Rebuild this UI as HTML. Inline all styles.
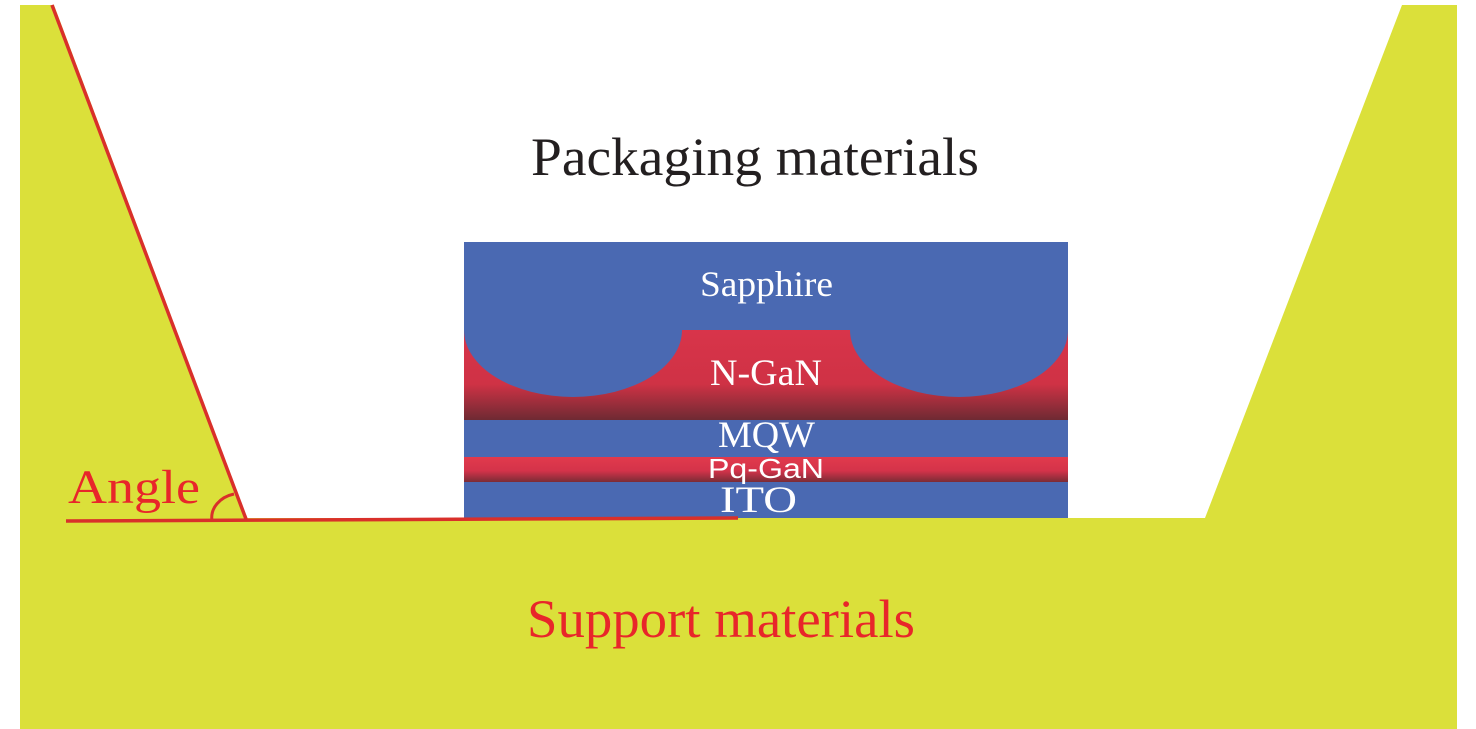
<!DOCTYPE html>
<html><head><meta charset="utf-8"><style>
html,body{margin:0;padding:0;background:#fff;}
svg{display:block;}
</style></head><body>
<svg width="1476" height="729" viewBox="0 0 1476 729" xmlns="http://www.w3.org/2000/svg">
<defs>
<linearGradient id="rg" x1="0" y1="0" x2="0" y2="1">
<stop offset="0" stop-color="#d8344a"/>
<stop offset="0.6" stop-color="#cf3245"/>
<stop offset="1" stop-color="#6e2a33"/>
</linearGradient>
<linearGradient id="pg" x1="0" y1="0" x2="0" y2="1">
<stop offset="0" stop-color="#e23a4c"/>
<stop offset="0.55" stop-color="#d4334a"/>
<stop offset="1" stop-color="#7a2c36"/>
</linearGradient>
</defs>
<rect x="20" y="5" width="1437" height="724" fill="#dbe03a"/>
<polygon points="54,5 247,518 1205,518 1402,5" fill="#fff"/>
<rect x="464" y="242" width="604" height="180" fill="#4a69b2"/>
<rect x="464" y="330" width="604" height="90" fill="url(#rg)"/>
<path d="M464,330 A109,67 0 0 0 682,330 L682,320 L464,320 Z" fill="#4a69b2"/>
<path d="M850,330 A109,67 0 0 0 1068,330 L1068,320 L850,320 Z" fill="#4a69b2"/>
<rect x="464" y="420" width="604" height="37" fill="#4a69b2"/>
<rect x="464" y="457" width="604" height="25" fill="url(#pg)"/>
<rect x="464" y="482" width="604" height="36" fill="#4a69b2"/>
<line x1="52" y1="5" x2="246" y2="519" stroke="#d9302a" stroke-width="3.5"/>
<line x1="66" y1="521" x2="738" y2="518" stroke="#d9302a" stroke-width="3.5"/>
<path d="M212,521 C210,508 220,497 234,494" fill="none" stroke="#d9302a" stroke-width="3"/>
<g font-family="Liberation Serif, serif">
<text x="531" y="175" font-size="54" textLength="448" lengthAdjust="spacingAndGlyphs" fill="#231f20">Packaging materials</text>
<text x="700" y="296" font-size="36" textLength="133" lengthAdjust="spacingAndGlyphs" fill="#fff">Sapphire</text>
<text x="710" y="385" font-size="37" textLength="112" lengthAdjust="spacingAndGlyphs" fill="#fff">N-GaN</text>
<text x="718" y="447" font-size="37" textLength="97" lengthAdjust="spacingAndGlyphs" fill="#fff">MQW</text>
<text x="720" y="512" font-size="37" textLength="77" lengthAdjust="spacingAndGlyphs" fill="#fff">ITO</text>
<text x="527" y="637" font-size="54" textLength="388" lengthAdjust="spacingAndGlyphs" fill="#e8262a">Support materials</text>
<text x="68" y="503" font-size="48" textLength="132" lengthAdjust="spacingAndGlyphs" fill="#e8262a">Angle</text>
</g>
<text x="708" y="478" font-family="Liberation Sans, sans-serif" font-size="28" textLength="116" lengthAdjust="spacingAndGlyphs" fill="#fff">Pq-GaN</text>
</svg>
</body></html>
